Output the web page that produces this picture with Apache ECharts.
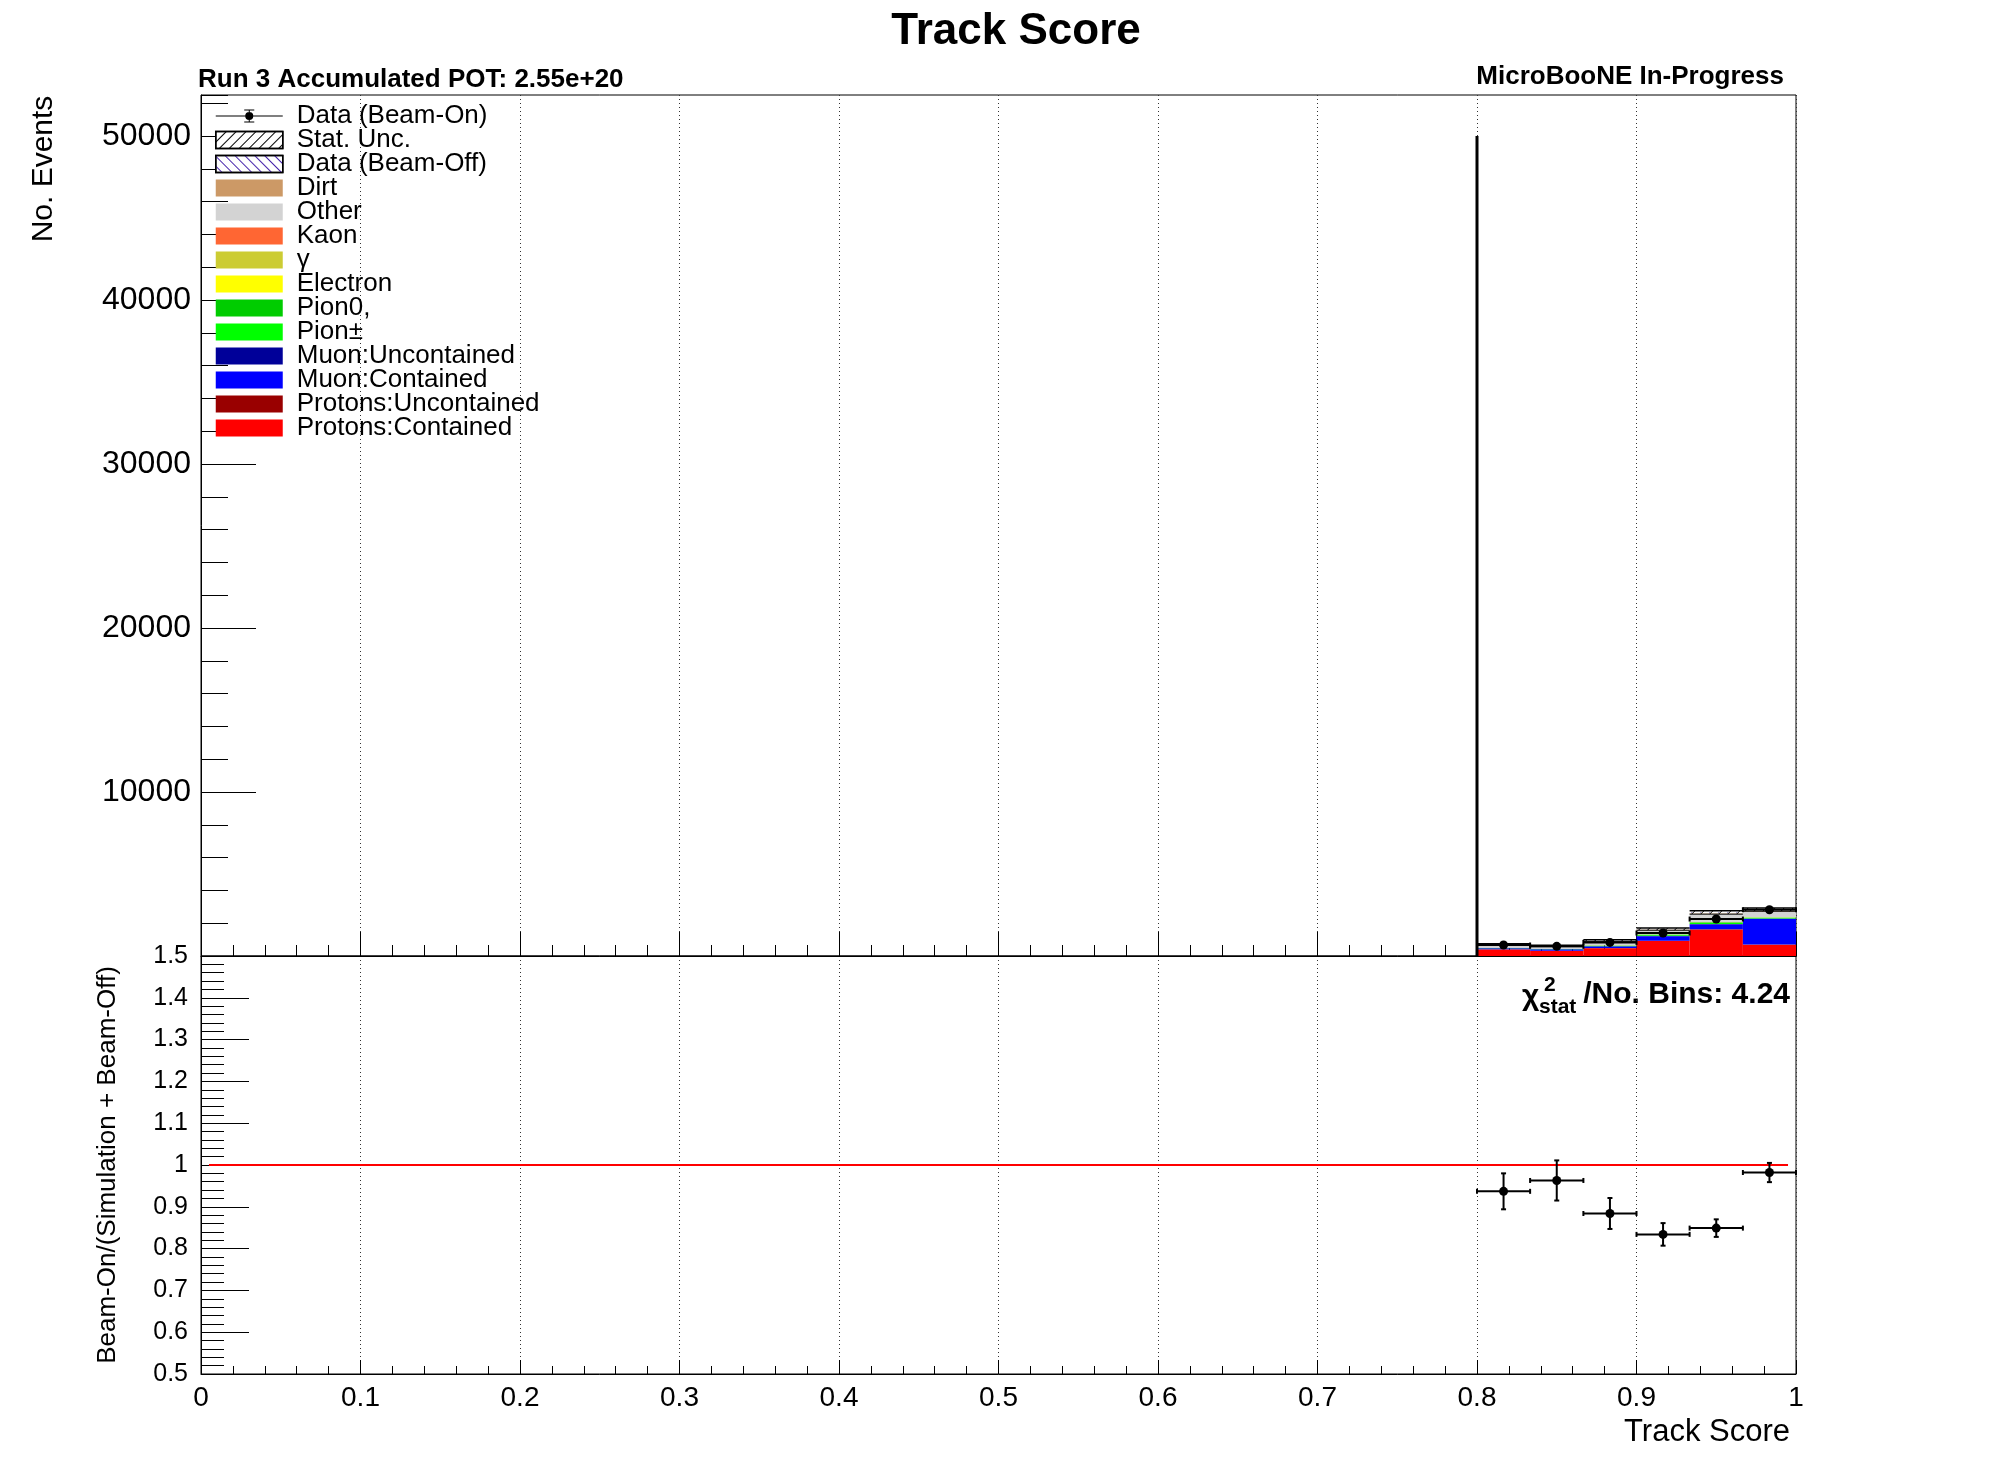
<!DOCTYPE html>
<html>
<head>
<meta charset="utf-8">
<title>Track Score</title>
<script src="https://cdn.jsdelivr.net/npm/echarts@6.0.0/dist/echarts.min.js"></script>
<style>
  html, body { margin: 0; padding: 0; background: #fff; }
  #chart { width: 1996px; height: 1472px; }
</style>
</head>
<body>
<div id="chart"></div>
<script>
// histogram bins (Track Score)
let binEdges = [0.8, 0.8333, 0.8667, 0.9, 0.9333, 0.9667, 1.0];

// stacked simulation, bottom to top
let protonsContained = [400, 320, 480, 910, 1600, 690];
let protonsUncontained = [5, 5, 10, 20, 25, 15];
let muonContained = [60, 80, 100, 280, 300, 1560];
let muonUncontained = [5, 5, 10, 20, 20, 25];
let pionCharged = [10, 10, 30, 60, 90, 50];
let pionZero = [5, 5, 15, 25, 20, 15];
let electron = [0, 0, 2, 3, 3, 2];
let gamma = [3, 3, 5, 8, 8, 6];
let kaon = [2, 2, 4, 6, 6, 5];
let other = [180, 150, 250, 240, 500, 350];
let dirt = [20, 20, 15, 50, 40, 30];
let beamOff = [15, 10, 20, 20, 40, 80];
let statErr = [40, 40, 50, 70, 100, 100];

// beam-on data
let dataValues = [670, 590, 830, 1400, 2253, 2822];
let dataErr = [26, 24, 29, 37, 47, 53];

// ratio panel
let ratioValues = [0.937, 0.963, 0.884, 0.834, 0.849, 0.982];
let ratioErr = [0.043, 0.048, 0.037, 0.027, 0.021, 0.023];
let refLine = [[0.005, 1], [0.995, 1]];

// the tall line at 0.8
let spikeData = [[0.8, 50000]];

let componentNames = ['Protons:Contained', 'Protons:Uncontained', 'Muon:Contained', 'Muon:Uncontained',
  'Pion±', 'Pion0,', 'Electron', 'γ', 'Kaon', 'Other', 'Dirt', 'Data (Beam-Off)'];
let componentColors = ['#ff0000', '#990000', '#0000ff', '#000099', '#00ff00', '#00cc00',
  '#ffff00', '#cccc33', '#ff6633', '#d3d3d3', '#cc9966', '#ffffff'];
let components = [protonsContained, protonsUncontained, muonContained, muonUncontained,
  pionCharged, pionZero, electron, gamma, kaon, other, dirt, beamOff];

let legendNames = ['Data (Beam-On)', 'Stat. Unc.', 'Data (Beam-Off)', 'Dirt', 'Other', 'Kaon', 'γ',
  'Electron', 'Pion0,', 'Pion±', 'Muon:Uncontained', 'Muon:Contained', 'Protons:Uncontained', 'Protons:Contained'];

const FONT = '"Liberation Sans", Arial, Helvetica, sans-serif';

let chart = echarts.init(document.getElementById('chart'), null, { renderer: 'canvas' });

// diagonal hatch lines inside a rect
function hatch(x, y, w, h, dir, color) {
  let out = [];
  let step = 9;
  for (let sx = x + 2; sx + h <= x + w; sx += step) {
    if (dir > 0) {
      out.push({ type: 'line', shape: { x1: sx, y1: y + h, x2: sx + h, y2: y }, style: { stroke: color, lineWidth: 1 } });
    } else {
      out.push({ type: 'line', shape: { x1: sx, y1: y, x2: sx + h, y2: y + h }, style: { stroke: color, lineWidth: 1 } });
    }
  }
  return out;
}

function binBox(api) {
  let p0 = api.coord([api.value(0), api.value(3)]);
  let p1 = api.coord([api.value(1), api.value(2)]);
  return { x: p0[0], y: p0[1], width: p1[0] - p0[0], height: p1[1] - p0[1] };
}

function renderBin(params, api) {
  return { type: 'rect', shape: binBox(api), style: api.style() };
}

function renderBeamOff(params, api) {
  let b = binBox(api);
  return {
    type: 'group',
    children: [{ type: 'rect', shape: b, style: { fill: '#fff' } }].concat(hatch(b.x, b.y, b.width, b.height, -1, '#4422aa')),
  };
}

function renderStat(params, api) {
  let b = binBox(api);
  return {
    type: 'group',
    children: hatch(b.x, b.y, b.width, b.height, 1, '#000').concat([
      { type: 'line', shape: { x1: b.x, y1: b.y, x2: b.x + b.width, y2: b.y }, style: { stroke: '#000', lineWidth: 1.5 } },
      { type: 'line', shape: { x1: b.x, y1: b.y + b.height, x2: b.x + b.width, y2: b.y + b.height }, style: { stroke: '#000', lineWidth: 1 } },
    ]),
  };
}

function renderPoint(params, api) {
  let x0 = api.value(0), x1 = api.value(1), xc = api.value(2), y = api.value(3), e = api.value(4);
  let c = api.coord([xc, y]);
  let l = api.coord([x0, y]);
  let r = api.coord([x1, y]);
  let hi = api.coord([xc, y + e]);
  let lo = api.coord([xc, y - e]);
  let cap = 2.5;
  let st = { stroke: '#000', lineWidth: 2 };
  return {
    type: 'group',
    children: [
      { type: 'line', shape: { x1: l[0], y1: c[1], x2: r[0], y2: c[1] }, style: st },
      { type: 'line', shape: { x1: c[0], y1: hi[1], x2: c[0], y2: lo[1] }, style: st },
      { type: 'line', shape: { x1: l[0], y1: c[1] - cap, x2: l[0], y2: c[1] + cap }, style: st },
      { type: 'line', shape: { x1: r[0], y1: c[1] - cap, x2: r[0], y2: c[1] + cap }, style: st },
      { type: 'line', shape: { x1: c[0] - cap, y1: hi[1], x2: c[0] + cap, y2: hi[1] }, style: st },
      { type: 'line', shape: { x1: c[0] - cap, y1: lo[1], x2: c[0] + cap, y2: lo[1] }, style: st },
      { type: 'circle', shape: { cx: c[0], cy: c[1], r: 4.5 }, style: { fill: '#000' } },
    ],
  };
}

function renderSpike(params, api) {
  let p0 = api.coord([api.value(0), 0]);
  let p1 = api.coord([api.value(0), api.value(1)]);
  return { type: 'line', shape: { x1: p0[0], y1: p0[1], x2: p1[0], y2: p1[1] }, style: { stroke: '#000', lineWidth: 3 } };
}

// build stacked series
let series = [];
let base = dataValues.map(() => 0);
components.forEach((vals, k) => {
  let rows = vals.map((v, j) => [binEdges[j], binEdges[j + 1], base[j], base[j] + v]);
  base = base.map((b, j) => b + vals[j]);
  series.push({
    name: componentNames[k],
    type: 'custom',
    xAxisIndex: 0,
    yAxisIndex: 0,
    renderItem: componentNames[k] === 'Data (Beam-Off)' ? renderBeamOff : renderBin,
    itemStyle: { color: componentColors[k] },
    data: rows,
    z: 2,
  });
});
let totals = base;

series.push({
  name: 'Stat. Unc.',
  type: 'custom',
  xAxisIndex: 0,
  yAxisIndex: 0,
  renderItem: renderStat,
  itemStyle: { color: '#fff' },
  data: totals.map((t, j) => [binEdges[j], binEdges[j + 1], t - statErr[j], t + statErr[j]]),
  z: 3,
});

series.push({
  name: 'spike',
  type: 'custom',
  xAxisIndex: 0,
  yAxisIndex: 0,
  renderItem: renderSpike,
  data: spikeData,
  z: 4,
});

series.push({
  name: 'Data (Beam-On)',
  type: 'custom',
  xAxisIndex: 0,
  yAxisIndex: 0,
  renderItem: renderPoint,
  itemStyle: { color: '#000' },
  data: dataValues.map((v, j) => [binEdges[j], binEdges[j + 1], (binEdges[j] + binEdges[j + 1]) / 2, v, dataErr[j]]),
  z: 5,
});

series.push({
  name: 'ratio',
  type: 'custom',
  xAxisIndex: 1,
  yAxisIndex: 2,
  renderItem: renderPoint,
  itemStyle: { color: '#000' },
  data: ratioValues.map((v, j) => [binEdges[j], binEdges[j + 1], (binEdges[j] + binEdges[j + 1]) / 2, v, ratioErr[j]]),
  z: 5,
});

series.push({
  name: 'ref',
  type: 'line',
  xAxisIndex: 1,
  yAxisIndex: 2,
  data: refLine,
  symbol: 'none',
  lineStyle: { color: '#ff0000', width: 2 },
  z: 4,
});

let beamOnIcon = 'path://M0 47H400V53H0Z M197 14H203V86H197Z M170 11H230V17H170Z M170 83H230V89H170Z M200 26A24 24 0 1 1 199.99 26Z';

let legendData = legendNames.map((n) => {
  if (n === 'Data (Beam-On)') return { name: n, icon: beamOnIcon, itemStyle: { color: '#000' } };
  if (n === 'Stat. Unc.') {
    return {
      name: n, icon: 'rect',
      itemStyle: {
        color: '#fff', borderColor: '#000', borderWidth: 1.5,
        decal: { symbol: 'rect', symbolSize: 1, rotation: -Math.PI / 4, dashArrayX: [1, 0], dashArrayY: [1, 6], color: '#000' },
      },
    };
  }
  if (n === 'Data (Beam-Off)') {
    return {
      name: n, icon: 'rect',
      itemStyle: {
        color: '#fff', borderColor: '#000', borderWidth: 1.5,
        decal: { symbol: 'rect', symbolSize: 1, rotation: Math.PI / 4, dashArrayX: [1, 0], dashArrayY: [1, 6], color: '#4422aa' },
      },
    };
  }
  return { name: n, icon: 'rect' };
});

let axisBlack = { lineStyle: { color: '#000', width: 1 } };

function fmtRatio(v) {
  return String(Math.round(v * 10) / 10);
}

let option = {
  animation: false,
  backgroundColor: '#fff',
  textStyle: { fontFamily: FONT },
  grid: [
    { left: 201, top: 95, width: 1595, height: 861, show: true, borderColor: '#000', borderWidth: 1, backgroundColor: 'transparent' },
    { left: 201, top: 956, width: 1595, height: 418, show: true, borderColor: '#000', borderWidth: 1, backgroundColor: 'transparent' },
  ],
  legend: {
    data: legendData,
    orient: 'vertical',
    left: 215,
    top: 103,
    padding: 0,
    itemWidth: 67,
    itemHeight: 17,
    itemGap: -2,
    selectedMode: false,
    textStyle: { fontFamily: FONT, fontSize: 26, color: '#000', lineHeight: 24, padding: [0, 0, 0, 9] },
  },
  xAxis: [
    {
      gridIndex: 0, type: 'value', min: 0, max: 1, interval: 0.1,
      axisLine: axisBlack,
      axisTick: { inside: true, length: 24, lineStyle: { color: '#000' } },
      minorTick: { show: true, splitNumber: 5, length: 11, lineStyle: { color: '#000' } },
      axisLabel: { show: false },
      splitLine: { show: true, lineStyle: { color: '#333', width: 1, type: [1, 3] } },
    },
    {
      gridIndex: 1, type: 'value', min: 0, max: 1, interval: 0.1,
      axisLine: axisBlack,
      axisTick: { inside: true, length: 14, lineStyle: { color: '#000' } },
      minorTick: { show: true, splitNumber: 5, length: 8, lineStyle: { color: '#000' } },
      axisLabel: { show: true, fontSize: 28, color: '#000', margin: 10, fontFamily: FONT, formatter: fmtRatio },
      splitLine: { show: true, lineStyle: { color: '#333', width: 1, type: [1, 3] } },
    },
  ],
  yAxis: [
    {
      gridIndex: 0, type: 'value', min: 0, max: 52500, interval: 10000, position: 'left',
      axisLine: axisBlack,
      axisTick: { inside: true, length: 55, lineStyle: { color: '#000' } },
      axisLabel: {
        fontSize: 32, color: '#000', margin: 10, fontFamily: FONT, showMaxLabel: false, showMinLabel: false,
        formatter: (v) => String(v),
      },
      splitLine: { show: false },
    },
    {
      gridIndex: 0, type: 'value', min: 0, max: 52500, interval: 2000, position: 'left',
      axisLine: { show: false },
      axisTick: { inside: true, length: 27, lineStyle: { color: '#000' } },
      axisLabel: { show: false },
      splitLine: { show: false },
    },
    {
      gridIndex: 1, type: 'value', min: 0.5, max: 1.5, interval: 0.1, position: 'left',
      axisLine: axisBlack,
      axisTick: { inside: true, length: 48, lineStyle: { color: '#000' } },
      minorTick: { show: true, splitNumber: 5, length: 23, lineStyle: { color: '#000' } },
      axisLabel: { fontSize: 25, color: '#000', margin: 13, fontFamily: FONT, formatter: fmtRatio },
      splitLine: { show: false },
    },
  ],
  graphic: [
    { type: 'text', x: 1016, y: 32, style: { text: 'Track Score', font: 'bold 44px ' + FONT, fill: '#000', align: 'center', verticalAlign: 'middle', textAlign: 'center', textVerticalAlign: 'middle' } },
    { type: 'text', x: 198, y: 80, style: { text: 'Run 3 Accumulated POT: 2.55e+20', font: 'bold 26px ' + FONT, fill: '#000', align: 'left', verticalAlign: 'middle', textAlign: 'left', textVerticalAlign: 'middle' } },
    { type: 'text', x: 1784, y: 77, style: { text: 'MicroBooNE In-Progress', font: 'bold 26px ' + FONT, fill: '#000', align: 'right', verticalAlign: 'middle', textAlign: 'right', textVerticalAlign: 'middle' } },
    { type: 'text', x: 44, y: 169, rotation: Math.PI / 2, style: { text: 'No. Events', font: '30px ' + FONT, fill: '#000', align: 'center', verticalAlign: 'middle', textAlign: 'center', textVerticalAlign: 'middle' } },
    { type: 'text', x: 108, y: 1165, rotation: Math.PI / 2, style: { text: 'Beam-On/(Simulation + Beam-Off)', font: '26px ' + FONT, fill: '#000', align: 'center', verticalAlign: 'middle', textAlign: 'center', textVerticalAlign: 'middle' } },
    { type: 'text', x: 1790, y: 1432, style: { text: 'Track Score', font: '31px ' + FONT, fill: '#000', align: 'right', verticalAlign: 'middle', textAlign: 'right', textVerticalAlign: 'middle' } },
    { type: 'text', x: 1522, y: 997, style: { text: 'χ', font: 'bold 30px ' + FONT, fill: '#000', align: 'left', verticalAlign: 'middle', textAlign: 'left', textVerticalAlign: 'middle' } },
    { type: 'text', x: 1544, y: 985, style: { text: '2', font: 'bold 21px ' + FONT, fill: '#000', align: 'left', verticalAlign: 'middle', textAlign: 'left', textVerticalAlign: 'middle' } },
    { type: 'text', x: 1539, y: 1007, style: { text: 'stat', font: 'bold 21px ' + FONT, fill: '#000', align: 'left', verticalAlign: 'middle', textAlign: 'left', textVerticalAlign: 'middle' } },
    { type: 'text', x: 1790, y: 995, style: { text: '/No. Bins: 4.24', font: 'bold 30px ' + FONT, fill: '#000', align: 'right', verticalAlign: 'middle', textAlign: 'right', textVerticalAlign: 'middle' } },
  ],
  series: series,
};

chart.setOption(option);

window.addEventListener('resize', chart.resize);
</script>
</body>
</html>
